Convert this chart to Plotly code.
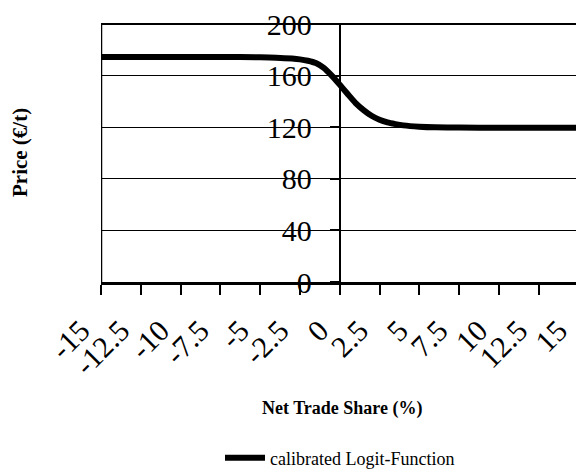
import plotly.graph_objects as go

# Data
net_trade_share = [-15.4, -12.5, -10, -7.5, -5, -4, -3, -2.5, -2, -1.5, -1, -0.5, 0,
                   0.5, 1, 1.5, 2, 2.5, 3, 3.5, 4, 5, 6, 7.5, 10, 12.5, 15, 15.4]
price = [174.5, 174.5, 174.5, 174.4, 174.2, 173.9, 173.2, 172.6, 171.5, 169.7, 166.0, 160.0, 153.0,
         145.7, 138.7, 133.3, 128.9, 125.8, 123.7, 122.4, 121.4, 120.4, 119.9, 119.7, 119.5, 119.5, 119.5, 119.5]

x_tick_vals = [-15, -12.5, -10, -7.5, -5, -2.5, 0, 2.5, 5, 7.5, 10, 12.5, 15]
x_tick_text = ["-15", "-12.5", "-10", "-7.5", "-5", "-2.5", "0", "2.5", "5", "7.5", "10", "12.5", "15"]
y_tick_vals = [0, 40, 80, 120, 160, 200]
y_tick_text = ["0", "40", "80", "120", "160", "200"]

series_name = "calibrated Logit-Function"
x_title = "Net Trade Share (%)"
y_title = "Price (€/t)"

FONT = "Liberation Serif, Times New Roman, serif"
x_min, x_max = -15, 15.35

# the page body adds an 8px offset; work in screen pixels and convert
OFF = 8
W, H = 584, 470
# plot area in screen pixels
SL, SR, ST, SB = 101, 584, 24, 282
PL, PR, PT, PB = SL - OFF, SR - OFF, ST - OFF, SB - OFF


def sx(px):
    return (px - SL) / (SR - SL)


def sy(py):
    return (SB - py) / (SB - ST)


fig = go.Figure()
fig.add_trace(go.Scatter(
    x=net_trade_share, y=price, mode="lines", name=series_name,
    line=dict(color="black", width=6, shape="spline", smoothing=0.6),
    showlegend=True,
))

fig.update_layout(
    width=W, height=H,
    margin=dict(l=PL, r=W - PR, t=PT, b=H - PB, autoexpand=False),
    paper_bgcolor="white", plot_bgcolor="white",
    font=dict(family=FONT, color="black"),
    showlegend=True,
    legend=dict(
        orientation="h", xref="paper", yref="paper",
        x=sx(340), xanchor="center", y=sy(458), yanchor="middle",
        font=dict(family=FONT, size=18, color="black"),
        bgcolor="rgba(0,0,0,0)", itemwidth=40,
    ),
    xaxis=dict(
        range=[x_min, x_max], tickmode="array", tickvals=x_tick_vals, ticktext=x_tick_text,
        tickangle=-45, tickfont=dict(family=FONT, size=30, color="black"),
        showline=True, linecolor="black", linewidth=3,
        ticks="outside", ticklen=10, tickwidth=2, tickcolor="black",
        showgrid=False, zeroline=False, automargin=False,
        ticklabelstandoff=6, ticklabelshift=-20, ticklabeloverflow="allow",
    ),
    yaxis=dict(
        range=[0, 200], tickmode="array", tickvals=y_tick_vals, ticktext=y_tick_text,
        anchor="free", position=(0 - x_min) / (x_max - x_min),
        tickfont=dict(family=FONT, size=30, color="black"),
        showline=True, linecolor="black", linewidth=2,
        ticks="outside", ticklen=9, tickwidth=2, tickcolor="black",
        showgrid=True, gridcolor="black", gridwidth=1, automargin=False,
        zeroline=False, ticklabelstandoff=12, ticklabeloverflow="allow",
    ),
    annotations=[
        dict(text="<b>" + x_title + "</b>", xref="paper", yref="paper",
             x=sx(342), y=sy(408), xanchor="center", yanchor="middle",
             showarrow=False, font=dict(family=FONT, size=18, color="black")),
        dict(text="<b>" + y_title + "</b>", xref="paper", yref="paper",
             x=sx(20), y=sy(153), xanchor="center", yanchor="middle", textangle=-90,
             showarrow=False, font=dict(family=FONT, size=21, color="black")),
    ],
    shapes=[
        dict(type="line", xref="x", yref="paper", x0=x_min, x1=x_min, y0=0, y1=1,
             line=dict(color="black", width=2.5), layer="above"),
        dict(type="line", xref="paper", yref="paper", x0=0, x1=1, y0=1, y1=1,
             line=dict(color="black", width=2), layer="above"),
    ],
)

fig.write_html("out.html")
